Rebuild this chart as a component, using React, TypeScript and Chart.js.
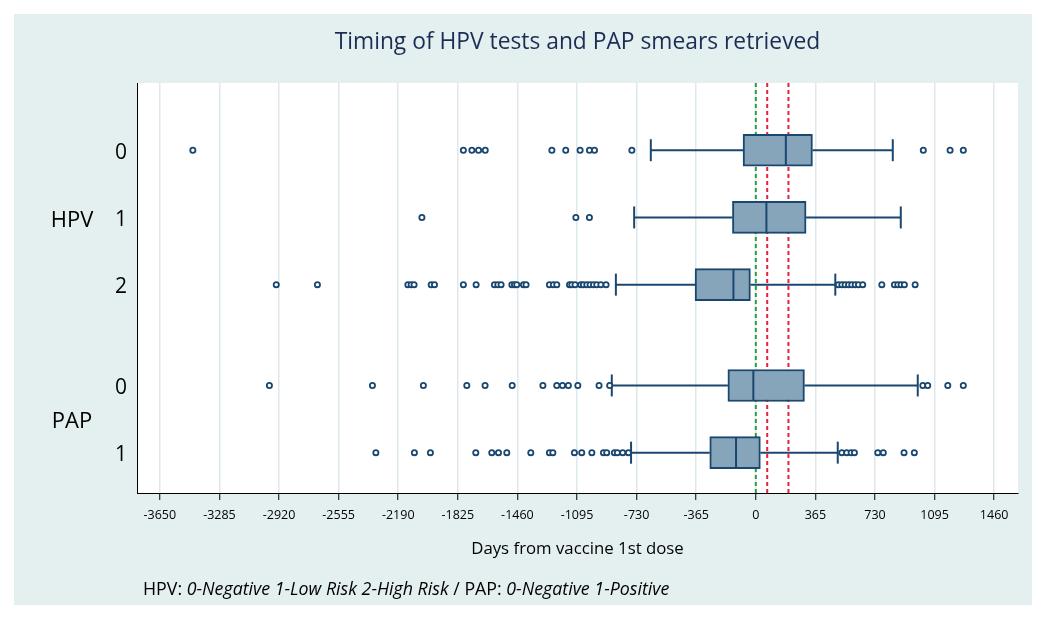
import React, { useEffect, useRef } from 'react';
import { Chart, registerables } from 'chart.js';

Chart.register(...registerables);

// ---------- data ----------
const rowLabels = ['0', '1', '2', '0', '1'];
const groupLabels = ['HPV', 'PAP'];
const rowPositions = [1, 2, 3, 4.5, 5.5];
const groupPositions = [2, 5];

const whiskerLow = [-643, -745, -857, -882, -764];
const q1 = [-78, -143, -372, -171, -282];
const median = [184, 65, -137, -15, -121];
const q3 = [347, 308, -33, 298, 28];
const whiskerHigh = [839, 888, 487, 992, 502];

const outliersHPV0 = [-3448, -1791, -1739, -1698, -1657, -1249, -1164, -1076, -1019, -988, -759, 1026, 1190, 1271];
const outliersHPV1 = [-2045, -1102, -1019];
const outliersHPV2 = [
  -2937, -2685, -2131, -2111, -2093, -1988, -1968, -1791, -1713, -1601, -1580, -1560, -1494, -1478, -1464,
  -1423, -1407, -1264, -1240, -1219, -1141, -1127, -1107, -1072, -1056, -1035, -1015, -994, -974, -949, -917,
  506, 527, 547, 568, 588, 609, 629, 655, 772, 849, 870, 890, 910, 976,
];
const outliersPAP0 = [-2979, -2348, -2036, -1770, -1658, -1492, -1304, -1219, -1184, -1148, -1090, -960, -895, 1023, 1053, 1176, 1271];
const outliersPAP1 = [
  -2327, -2091, -1993, -1715, -1617, -1576, -1525, -1378, -1264, -1243, -1111, -1066, -1004, -933, -913, -866,
  -848, -815, -780, 527, 557, 584, 604, 747, 781, 908, 971,
];
const outliers = [outliersHPV0, outliersHPV1, outliersHPV2, outliersPAP0, outliersPAP1];

const xTicks = [-3650, -3285, -2920, -2555, -2190, -1825, -1460, -1095, -730, -365, 0, 365, 730, 1095, 1460];
const vaccineDoseDays = [0, 70, 200];

const X_MIN = -3790;
const X_MAX = 1606;
const Y_MIN = 0;
const Y_MAX = 6.1;

// ---------- styles ----------
const FONT = '"Open Sans", Lato, "DejaVu Sans", sans-serif';
const NAVY = '#1a476f';
const BOX_FILL = '#87a5ba';
const PANEL = '#e4eff0';
const GRID = '#dde9ed';
const GREEN = '#2f9a3c';
const RED = '#e5213e';

const decorPlugin = {
  id: 'decor',
  beforeDraw(chart: any) {
    const { ctx, width, height, chartArea: ca } = chart;
    ctx.save();
    ctx.fillStyle = '#ffffff';
    ctx.fillRect(0, 0, width, height);
    ctx.fillStyle = PANEL;
    ctx.fillRect(14, 14, width - 28, height - 28);
    ctx.fillStyle = '#ffffff';
    ctx.fillRect(ca.left, ca.top, ca.right - ca.left, ca.bottom - ca.top);
    ctx.restore();
  },
  afterDraw(chart: any) {
    const { ctx, chartArea: ca } = chart;
    const yScale = chart.scales.y;
    ctx.save();
    // title
    ctx.fillStyle = '#1c2d55';
    ctx.font = `22.8px ${FONT}`;
    ctx.textAlign = 'center';
    ctx.textBaseline = 'middle';
    ctx.fillText('Timing of HPV tests and PAP smears retrieved', (ca.left + ca.right) / 2, 43);
    // group labels
    ctx.fillStyle = '#000';
    ctx.font = `22px ${FONT}`;
    groupLabels.forEach((g, i) => {
      ctx.fillText(g, 72, yScale.getPixelForValue(groupPositions[i]) + 3);
    });
    // footnote
    const parts: [string, boolean][] = [
      ['HPV: ', false],
      ['0-Negative 1-Low Risk 2-High Risk', true],
      [' / PAP: ', false],
      ['0-Negative 1-Positive', true],
    ];
    let x = 143;
    ctx.textAlign = 'left';
    parts.forEach(([t, it]) => {
      ctx.font = `${it ? 'italic ' : ''}17.8px ${FONT}`;
      ctx.fillText(t, x, 590);
      x += ctx.measureText(t).width;
    });
    ctx.restore();
  },
};

export default function App() {
  const ref = useRef<HTMLCanvasElement | null>(null);

  useEffect(() => {
    if (!ref.current) return;
    const datasets: any[] = [];

    // boxes
    datasets.push({
      type: 'bar',
      data: rowPositions.map((y, i) => ({ x: [q1[i], q3[i]], y })),
      backgroundColor: BOX_FILL,
      borderColor: NAVY,
      borderWidth: 2,
      borderSkipped: false,
      barThickness: 32,
      grouped: false,
      order: 2,
    });
    // medians
    datasets.push({
      type: 'line',
      data: rowPositions.map((y, i) => ({ x: median[i], y })),
      showLine: false,
      pointStyle: 'line',
      rotation: 90,
      pointRadius: 15,
      pointBorderColor: NAVY,
      pointBorderWidth: 2,
      order: 1,
    });
    // whiskers
    rowPositions.forEach((y, i) => {
      datasets.push({
        type: 'line',
        data: [{ x: whiskerLow[i], y }, { x: q1[i], y }],
        borderColor: NAVY,
        borderWidth: 2,
        pointStyle: 'line',
        rotation: 90,
        pointRadius: [11, 0],
        pointBorderColor: NAVY,
        pointBorderWidth: 2,
        order: 3,
      });
      datasets.push({
        type: 'line',
        data: [{ x: q3[i], y }, { x: whiskerHigh[i], y }],
        borderColor: NAVY,
        borderWidth: 2,
        pointStyle: 'line',
        rotation: 90,
        pointRadius: [0, 11],
        pointBorderColor: NAVY,
        pointBorderWidth: 2,
        order: 3,
      });
    });
    // outliers
    rowPositions.forEach((y, i) => {
      datasets.push({
        type: 'line',
        data: outliers[i].map((v) => ({ x: v, y })),
        showLine: false,
        pointStyle: 'circle',
        pointRadius: 2.6,
        pointBorderWidth: 1.8,
        pointBorderColor: NAVY,
        pointBackgroundColor: '#ffffff',
        order: 0,
      });
    });
    // vaccine dose reference lines
    vaccineDoseDays.forEach((d, i) => {
      datasets.push({
        type: 'line',
        data: [{ x: d, y: Y_MIN }, { x: d, y: Y_MAX }],
        borderColor: i === 0 ? GREEN : RED,
        borderWidth: 2,
        borderDash: [4, 3],
        pointRadius: 0,
        order: 10,
      });
    });

    const chart = new Chart(ref.current, {
      type: 'bar',
      data: { datasets },
      plugins: [decorPlugin],
      options: {
        indexAxis: 'y',
        animation: false,
        responsive: false,
        devicePixelRatio: 1,
        layout: { padding: { left: 0, top: 83, right: 28, bottom: 0 } },
        plugins: { legend: { display: false }, tooltip: { enabled: false } },
        scales: {
          x: {
            type: 'linear',
            min: X_MIN,
            max: X_MAX,
            afterBuildTicks: (s: any) => {
              s.ticks = xTicks.map((v) => ({ value: v }));
            },
            ticks: {
              autoSkip: false,
              maxRotation: 0,
              padding: 8,
              color: '#000',
              font: { family: FONT, size: 12.5 },
              callback: (v: any) => String(v),
            },
            grid: { color: GRID, lineWidth: 1.5, tickColor: '#000', tickWidth: 1, tickLength: 7, drawTicks: true },
            border: { color: '#000', width: 1 },
            title: {
              display: true,
              text: 'Days from vaccine 1st dose',
              color: '#000',
              font: { family: FONT, size: 16.8 },
              padding: { top: 0, bottom: 60 },
            },
            afterFit: (s: any) => {
              s.height = 126;
            },
          },
          y: {
            type: 'linear',
            reverse: true,
            min: Y_MIN,
            max: Y_MAX,
            offset: false,
            afterBuildTicks: (s: any) => {
              s.ticks = rowPositions.map((v) => ({ value: v }));
            },
            ticks: {
              autoSkip: false,
              padding: 10,
              labelOffset: 2.5,
              color: '#000',
              font: { family: FONT, size: 21 },
              callback: (v: any) => {
                const k = rowPositions.indexOf(Number(v));
                return k >= 0 ? rowLabels[k] : '';
              },
            },
            grid: { display: false, drawTicks: false, offset: false },
            border: { color: '#000', width: 1 },
            afterFit: (s: any) => {
              s.width = 137;
            },
          },
        },
      } as any,
    });
    return () => chart.destroy();
  }, []);

  return (
    <div style={{ position: 'absolute', left: 0, top: 0 }}>
      <canvas ref={ref} width={1046} height={619} style={{ display: 'block' }} />
    </div>
  );
}
